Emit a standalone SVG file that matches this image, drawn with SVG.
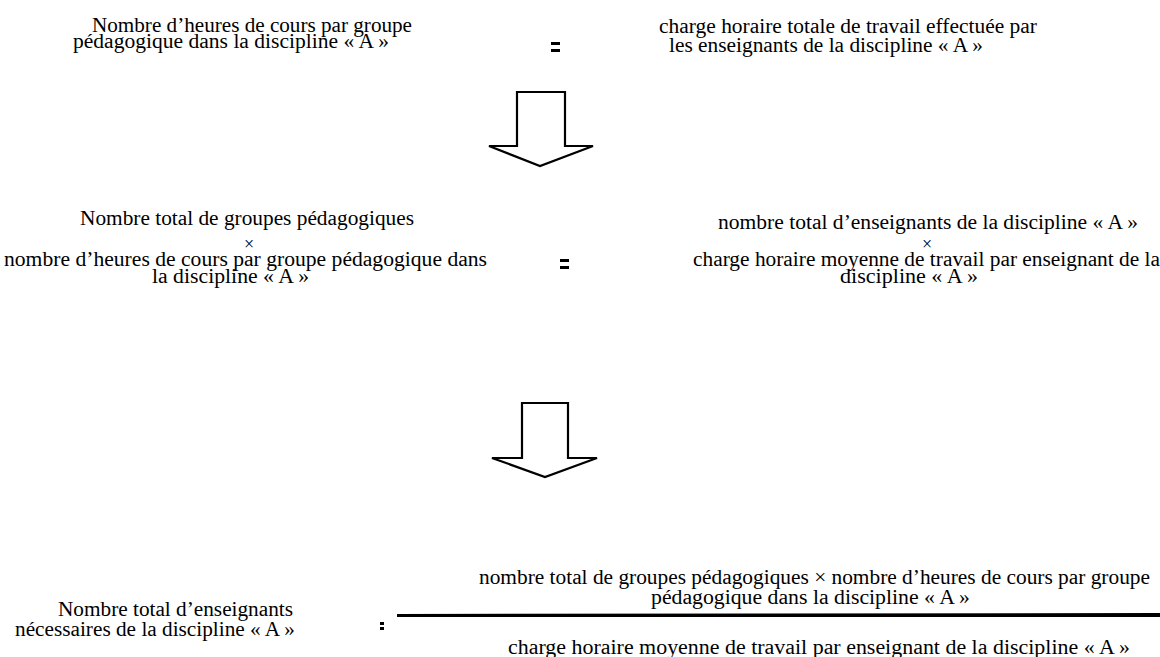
<svg xmlns="http://www.w3.org/2000/svg" width="1160" height="657" viewBox="0 0 1160 657">
<style>
.t{font-family:"Liberation Serif","DejaVu Serif",serif;font-size:20px;fill:#000}
.x{font-family:"Liberation Serif","DejaVu Serif",serif;font-size:18px;fill:#000;text-anchor:middle}
.arrow{fill:#fff;stroke:#000;stroke-width:2.2;stroke-linejoin:miter}
.bar{fill:#000}
</style>
<rect width="1160" height="657" fill="#fff"/>
<g id="row1-left">
<text class="t" x="92" y="31.5" textLength="320" lengthAdjust="spacingAndGlyphs">Nombre d’heures de cours par groupe</text>
<text class="t" x="73" y="47.5" textLength="316" lengthAdjust="spacingAndGlyphs">pédagogique dans la discipline « A »</text>
</g>
<g id="row1-eq"><rect class="bar" x="551" y="42" width="9" height="3"/><rect class="bar" x="551" y="49" width="9" height="3"/></g>
<g id="row1-right">
<text class="t" x="659" y="33" textLength="378" lengthAdjust="spacingAndGlyphs">charge horaire totale de travail effectuée par</text>
<text class="t" x="669" y="52" textLength="314" lengthAdjust="spacingAndGlyphs">les enseignants de la discipline « A »</text>
</g>
<g id="row2-left">
<text class="t" x="80" y="225" textLength="334" lengthAdjust="spacingAndGlyphs">Nombre total de groupes pédagogiques</text>
<text class="x" x="249" y="250">×</text>
<text class="t" x="4" y="266" textLength="483" lengthAdjust="spacingAndGlyphs">nombre d’heures de cours par groupe pédagogique dans</text>
<text class="t" x="152" y="283" textLength="157" lengthAdjust="spacingAndGlyphs">la discipline « A »</text>
</g>
<g id="row2-eq"><rect class="bar" x="560" y="259" width="9" height="3"/><rect class="bar" x="560" y="266" width="9" height="3"/></g>
<g id="row2-right">
<text class="t" x="718" y="229" textLength="420" lengthAdjust="spacingAndGlyphs">nombre total d’enseignants de la discipline « A »</text>
<text class="x" x="927" y="250">×</text>
<text class="t" x="693" y="266" textLength="467" lengthAdjust="spacingAndGlyphs">charge horaire moyenne de travail par enseignant de la</text>
<text class="t" x="840" y="283" textLength="138" lengthAdjust="spacingAndGlyphs">discipline « A »</text>
</g>
<g id="row3-left">
<text class="t" x="58" y="616" textLength="235" lengthAdjust="spacingAndGlyphs">Nombre total d’enseignants</text>
<text class="t" x="15" y="636" textLength="280" lengthAdjust="spacingAndGlyphs">nécessaires de la discipline « A »</text>
</g>
<g id="row3-colon"><rect class="bar" x="380" y="622" width="4" height="3"/><rect class="bar" x="380" y="627" width="4" height="3"/></g>
<g id="row3-fraction">
<text class="t" x="479" y="584" textLength="671" lengthAdjust="spacingAndGlyphs">nombre total de groupes pédagogiques × nombre d’heures de cours par groupe</text>
<text class="t" x="651" y="604" textLength="319" lengthAdjust="spacingAndGlyphs">pédagogique dans la discipline « A »</text>
<polygon points="397,614 1160,613 1160,617 397,617" fill="#000"/>
<text class="t" x="508" y="654" textLength="622" lengthAdjust="spacingAndGlyphs">charge horaire moyenne de travail par enseignant de la discipline « A »</text>
</g>
<g id="connectors">
<polygon class="arrow" points="517,92 565,92 565,146 593,146 540,166 489,146 517,146"/>
<polygon class="arrow" points="522,403 568,403 568,458 597,458 545,477 492,458 522,458"/>
</g>
</svg>
